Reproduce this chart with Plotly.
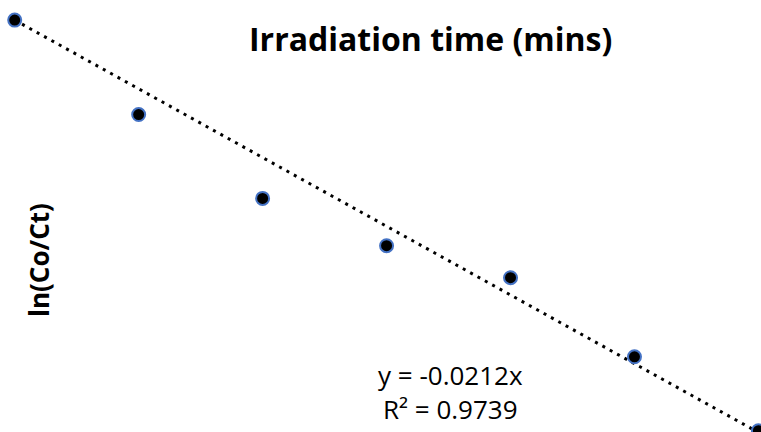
import plotly.graph_objects as go

# Data
times = [0, 15, 30, 45, 60, 75, 90]                    # Irradiation time (mins)
ln_ratio = [0.0, -0.437, -0.825, -1.044, -1.192, -1.558, -1.90]  # ln(Co/Ct)
slope = -0.0212
r_squared = 0.9739

trend_x = [times[0], times[-1]]
trend_y = [slope * t for t in trend_x]

W, H = 761, 432

fig = go.Figure()
fig.add_trace(go.Scatter(
    x=trend_x, y=trend_y, mode="lines",
    line=dict(color="black", width=3, dash="3px,5.4px"),
    hoverinfo="skip", showlegend=False,
))
fig.add_trace(go.Scatter(
    x=times, y=ln_ratio, mode="markers",
    marker=dict(color="black", size=13, line=dict(color="#4472C4", width=2)),
    cliponaxis=False, showlegend=False,
))

fig.update_layout(
    width=W, height=H,
    margin=dict(l=0, r=0, t=0, b=0),
    paper_bgcolor="white", plot_bgcolor="white",
    xaxis=dict(range=[-1.78, 90.31], visible=False, fixedrange=True),
    yaxis=dict(range=[-1.906, 0.093], visible=False, fixedrange=True),
    font=dict(family="Open Sans", color="black"),
)

fig.add_annotation(
    text="<b>Irradiation time (mins)</b>", xref="paper", yref="paper",
    x=430 / W, y=1 - 38 / H, xanchor="center", yanchor="middle",
    showarrow=False, font=dict(size=32, color="black", family="Open Sans"),
)
fig.add_annotation(
    text="<b>ln(Co/Ct)</b>", xref="paper", yref="paper",
    x=39 / W, y=1 - 260 / H, xanchor="center", yanchor="middle",
    textangle=-90, showarrow=False, font=dict(size=26, color="black", family="Open Sans"),
)
fig.add_annotation(
    text=f"y = {slope}x<br>R² = {r_squared}", xref="paper", yref="paper",
    x=451 / W, y=1 - 392 / H, xanchor="center", yanchor="middle", align="center",
    showarrow=False, font=dict(size=26, color="black", family="Open Sans"),
)

fig.write_html("out.html", config={"displayModeBar": False},
               post_script="document.body.style.margin='0';")
